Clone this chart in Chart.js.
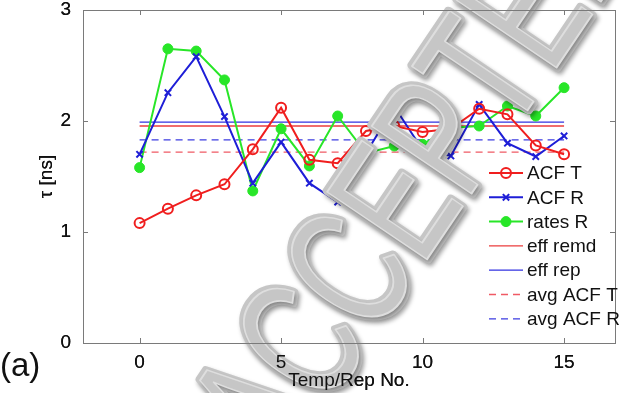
<!DOCTYPE html>
<html>
<head>
<meta charset="utf-8">
<script src="https://cdn.jsdelivr.net/npm/chart.js@4/dist/chart.umd.min.js"></script>
<style>
  html, body { margin: 0; padding: 0; background: #ffffff; }
  #chart { display: block; }
</style>
</head>
<body>
<canvas id="chart" width="622" height="393"></canvas>
<script>
// данные
const repNo = [0, 1, 2, 3, 4, 5, 6, 7, 8, 9, 10, 11, 12, 13, 14, 15];
const acfT   = [1.08, 1.21, 1.33, 1.43, 1.745, 2.12, 1.65, 1.62, 1.91, 1.955, 1.90, 1.93, 2.11, 2.06, 1.78, 1.70];
const acfR   = [1.70, 2.255, 2.58, 2.04, 1.44, 1.81, 1.44, 1.27, 1.71, 2.13, 1.74, 1.685, 2.15, 1.80, 1.68, 1.865];
const ratesR = [1.58, 2.65, 2.63, 2.37, 1.37, 1.93, 1.595, 2.045, 1.71, 1.775, 1.79, 1.94, 1.955, 2.135, 2.045, 2.30];
// горизонтальные уровни
const effRemd = 1.955;
const effRep = 1.99;
const avgAcfT = 1.72;
const avgAcfR = 1.83;
const xTicks = [0, 5, 10, 15];
const yTicks = [0, 1, 2, 3];

const FONT = "'Liberation Sans', Arial, sans-serif";

function toPoints(values) {
  return values.map((v, i) => ({ x: repNo[i], y: v }));
}
function level(v) {
  return [{ x: repNo[0], y: v }, { x: repNo[repNo.length - 1], y: v }];
}

// водяной знак поверх линий
const watermarkPlugin = {
  id: "watermark",
  afterDatasetsDraw(chart) {
    const { ctx } = chart;
    ctx.save();
    ctx.translate(410, 172);
    ctx.rotate(-56 * Math.PI / 180);
    ctx.scale(0.68, 1);
    ctx.font = "175px " + FONT;
    ctx.textAlign = "center";
    ctx.textBaseline = "alphabetic";
    ctx.lineJoin = "round";
    ctx.shadowColor = "rgba(0,0,0,0.35)";
    ctx.shadowBlur = 4;
    ctx.shadowOffsetX = 2;
    ctx.shadowOffsetY = 3;
    ctx.fillStyle = "rgb(198,198,198)";
    ctx.strokeStyle = "rgb(198,198,198)";
    ctx.lineWidth = 10;
    ctx.strokeText("ACCEPTED", 0, 63);
    ctx.fillText("ACCEPTED", 0, 63);
    ctx.shadowColor = "rgba(0,0,0,0)";
    ctx.strokeStyle = "rgb(222,222,222)";
    ctx.lineWidth = 2;
    ctx.strokeText("ACCEPTED", 0, 63);
    ctx.restore();
  }
};

// рамка, засечки внутрь, подписи осей поверх водяного знака
const framePlugin = {
  id: "frame",
  afterDraw(chart) {
    const { ctx, chartArea: a, scales } = chart;
    scales.x.draw(a);
    scales.y.draw(a);
    ctx.save();
    ctx.strokeStyle = "#7a7a7a";
    ctx.lineWidth = 1;
    ctx.strokeRect(a.left + 0.5, a.top + 0.5, a.right - a.left, a.bottom - a.top);
    ctx.beginPath();
    xTicks.forEach(t => {
      const x = Math.round(scales.x.getPixelForValue(t)) + 0.5;
      ctx.moveTo(x, a.bottom); ctx.lineTo(x, a.bottom - 5);
      ctx.moveTo(x, a.top); ctx.lineTo(x, a.top + 5);
    });
    yTicks.forEach(t => {
      const y = Math.round(scales.y.getPixelForValue(t)) + 0.5;
      ctx.moveTo(a.left, y); ctx.lineTo(a.left + 5, y);
      ctx.moveTo(a.right, y); ctx.lineTo(a.right - 5, y);
    });
    ctx.stroke();
    ctx.font = "33px " + FONT;
    ctx.fillStyle = "#111";
    ctx.textBaseline = "middle";
    ctx.fillText("(a)", 0, 367);
    ctx.restore();
  }
};

// легенда внутри области графика, без рамки
const legendPlugin = {
  id: "innerLegend",
  afterDraw(chart) {
    const { ctx } = chart;
    ctx.save();
    ctx.font = "19px " + FONT;
    ctx.textBaseline = "middle";
    chart.data.datasets.forEach((ds, i) => {
      const y = 173 + i * 24.3;
      ctx.strokeStyle = ds.borderColor;
      ctx.lineWidth = ds.borderWidth;
      ctx.setLineDash(ds.borderDash || []);
      ctx.beginPath();
      ctx.moveTo(489, y); ctx.lineTo(523, y);
      ctx.stroke();
      ctx.setLineDash([]);
      if (ds.pointRadius > 0) {
        ctx.lineWidth = ds.pointBorderWidth;
        ctx.strokeStyle = ds.pointBorderColor;
        ctx.fillStyle = ds.pointBackgroundColor;
        Chart.helpers.drawPoint(ctx, {
          pointStyle: ds.pointStyle, radius: ds.pointRadius, borderWidth: ds.pointBorderWidth
        }, 506, y);
      }
      ctx.fillStyle = "#111";
      ctx.fillText(ds.label, 527, y + 1);
    });
    ctx.restore();
  }
};

const ctx = document.getElementById("chart").getContext("2d");
new Chart(ctx, {
  type: "line",
  data: {
    datasets: [
      {
        label: "ACF T", data: toPoints(acfT),
        borderColor: "rgb(240,30,30)", borderWidth: 2,
        pointStyle: "circle", pointRadius: 5, pointBorderWidth: 2,
        pointBorderColor: "rgb(240,30,30)", pointBackgroundColor: "rgba(0,0,0,0)"
      },
      {
        label: "ACF R", data: toPoints(acfR),
        borderColor: "rgb(30,30,215)", borderWidth: 2,
        pointStyle: "crossRot", pointRadius: 4.5, pointBorderWidth: 2,
        pointBorderColor: "rgb(30,30,215)", pointBackgroundColor: "rgb(30,30,215)"
      },
      {
        label: "rates R", data: toPoints(ratesR),
        borderColor: "rgb(40,230,40)", borderWidth: 2,
        pointStyle: "circle", pointRadius: 5, pointBorderWidth: 1,
        pointBorderColor: "rgb(40,230,40)", pointBackgroundColor: "rgb(40,230,40)"
      },
      {
        label: "eff remd", data: level(effRemd),
        borderColor: "rgb(235,60,60)", borderWidth: 1.3, pointRadius: 0
      },
      {
        label: "eff rep", data: level(effRep),
        borderColor: "rgb(50,50,225)", borderWidth: 1.3, pointRadius: 0
      },
      {
        label: "avg ACF T", data: level(avgAcfT),
        borderColor: "rgb(240,90,100)", borderWidth: 1.3, borderDash: [7, 5], pointRadius: 0
      },
      {
        label: "avg ACF R", data: level(avgAcfR),
        borderColor: "rgb(60,60,225)", borderWidth: 1.3, borderDash: [7, 5], pointRadius: 0
      }
    ]
  },
  options: {
    responsive: false,
    animation: false,
    devicePixelRatio: 1,
    layout: { padding: { top: 10, right: 6, left: 0, bottom: 0 } },
    plugins: { legend: { display: false }, tooltip: { enabled: false } },
    elements: { line: { tension: 0 } },
    scales: {
      x: {
        type: "linear", min: -2, max: 16.8,
        afterBuildTicks: s => { s.ticks = xTicks.map(v => ({ value: v })); },
        afterFit: s => { s.height = 50; s.paddingLeft = 0; s.paddingRight = 0; },
        grid: { display: false },
        border: { display: false },
        ticks: { color: "#111", font: { family: FONT, size: 19 }, padding: 0, maxRotation: 0 },
        title: { display: true, text: "Temp/Rep No.", color: "#111",
                 font: { family: FONT, size: 19 }, padding: { top: 0, bottom: 1 } }
      },
      y: {
        min: 0, max: 3,
        afterBuildTicks: s => { s.ticks = yTicks.map(v => ({ value: v })); },
        afterFit: s => { s.width = 83; s.paddingTop = 0; s.paddingBottom = 0; },
        grid: { display: false },
        border: { display: false },
        ticks: { color: "#111", font: { family: FONT, size: 19 }, padding: 4 },
        title: { display: true, text: "τ [ns]", color: "#111",
                 font: { family: FONT, size: 19 }, padding: { top: 35, bottom: 0 } }
      }
    }
  },
  plugins: [watermarkPlugin, framePlugin, legendPlugin]
});
</script>
</body>
</html>
